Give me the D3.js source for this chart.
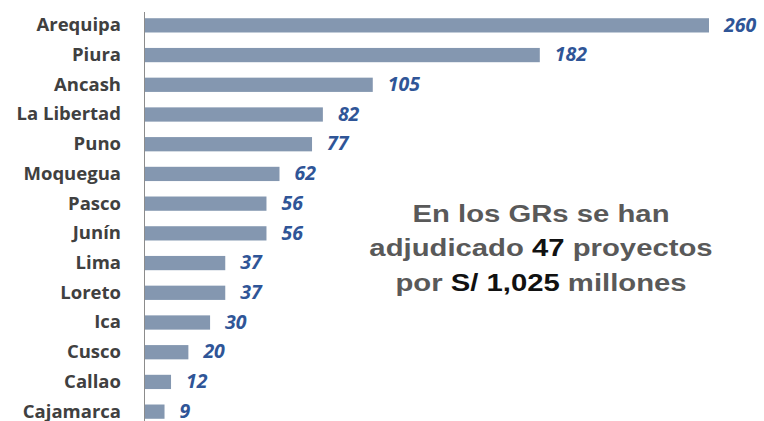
<!DOCTYPE html>
<html>
<head>
<meta charset="utf-8">
<script src="https://cdn.jsdelivr.net/npm/d3@7"></script>
<style>
  body { margin:0; background:#fff; }
  svg { display:block; }
</style>
</head>
<body>
<div id="chart"></div>
<script>
var W = 764, H = 421;

// data
var regions = ['Arequipa','Piura','Ancash','La Libertad','Puno','Moquegua','Pasco','Junín','Lima','Loreto','Ica','Cusco','Callao','Cajamarca'];
var amounts = [260, 182, 105, 82, 77, 62, 56, 56, 37, 37, 30, 20, 12, 9];
var noteLines = [
  [{t:'En los GRs se han', b:false}],
  [{t:'adjudicado ', b:false}, {t:'47', b:true}, {t:' proyectos', b:false}],
  [{t:'por ', b:false}, {t:'S/ 1,025', b:true}, {t:' millones', b:false}]
];

var x0 = 145;
var svg = d3.select('#chart').append('svg')
  .attr('width', W)
  .attr('height', H);

var x = d3.scaleLinear().domain([0, 260]).range([x0, 709]);
var y = d3.scaleBand().domain(regions).range([10.5, 426.5]).paddingInner(0.52).paddingOuter(0.26);

svg.append('g')
  .selectAll('rect')
  .data(regions)
  .enter()
  .append('rect')
    .attr('x', x(0))
    .attr('y', function(d){ return y(d); })
    .attr('width', function(d,i){ return x(amounts[i]) - x(0); })
    .attr('height', y.bandwidth())
    .style('fill', '#8497b0');

// axis line
svg.append('line')
  .attr('x1', x0 - 0.5).attr('x2', x0 - 0.5)
  .attr('y1', 12).attr('y2', H)
  .style('stroke', '#8c8c8c')
  .style('stroke-width', 1);

// category labels
svg.append('g')
  .selectAll('text')
  .data(regions)
  .enter()
  .append('text')
    .attr('x', 121)
    .attr('y', function(d){ return y(d) + y.bandwidth()/2; })
    .attr('dy', '0.32em')
    .attr('text-anchor', 'end')
    .style('font-family', '"Open Sans", Lato, sans-serif')
    .style('font-weight', 'bold')
    .style('font-size', '18.5px')
    .style('fill', '#404040')
    .text(function(d){ return d; });

// value labels
svg.append('g')
  .selectAll('text')
  .data(regions)
  .enter()
  .append('text')
    .attr('x', function(d,i){ return x(amounts[i]) + 15; })
    .attr('y', function(d){ return y(d) + y.bandwidth()/2; })
    .attr('dy', '0.32em')
    .style('font-family', '"Open Sans", Lato, sans-serif')
    .style('font-weight', 'bold')
    .style('font-style', 'italic')
    .style('font-size', '19.5px')
    .style('fill', '#2f5597')
    .text(function(d,i){ return amounts[i]; });

// note (the source text is a bit wider than Arial, so stretch it)
var note = svg.append('text')
  .attr('text-anchor', 'middle')
  .attr('transform', 'translate(541,0) scale(1.22,1)')
  .style('font-family', '"Liberation Sans", Arial, sans-serif')
  .style('font-weight', 'bold')
  .style('font-size', '24px');

noteLines.forEach(function(line, i){
  var tl = note.append('tspan')
    .attr('x', 0)
    .attr('y', 222 + i*34.5);
  line.forEach(function(p, j){
    var s = j === 0 ? tl : note.append('tspan');
    s.text(p.t).style('fill', p.b ? '#111' : '#595959');
  });
});
</script>
</body>
</html>
